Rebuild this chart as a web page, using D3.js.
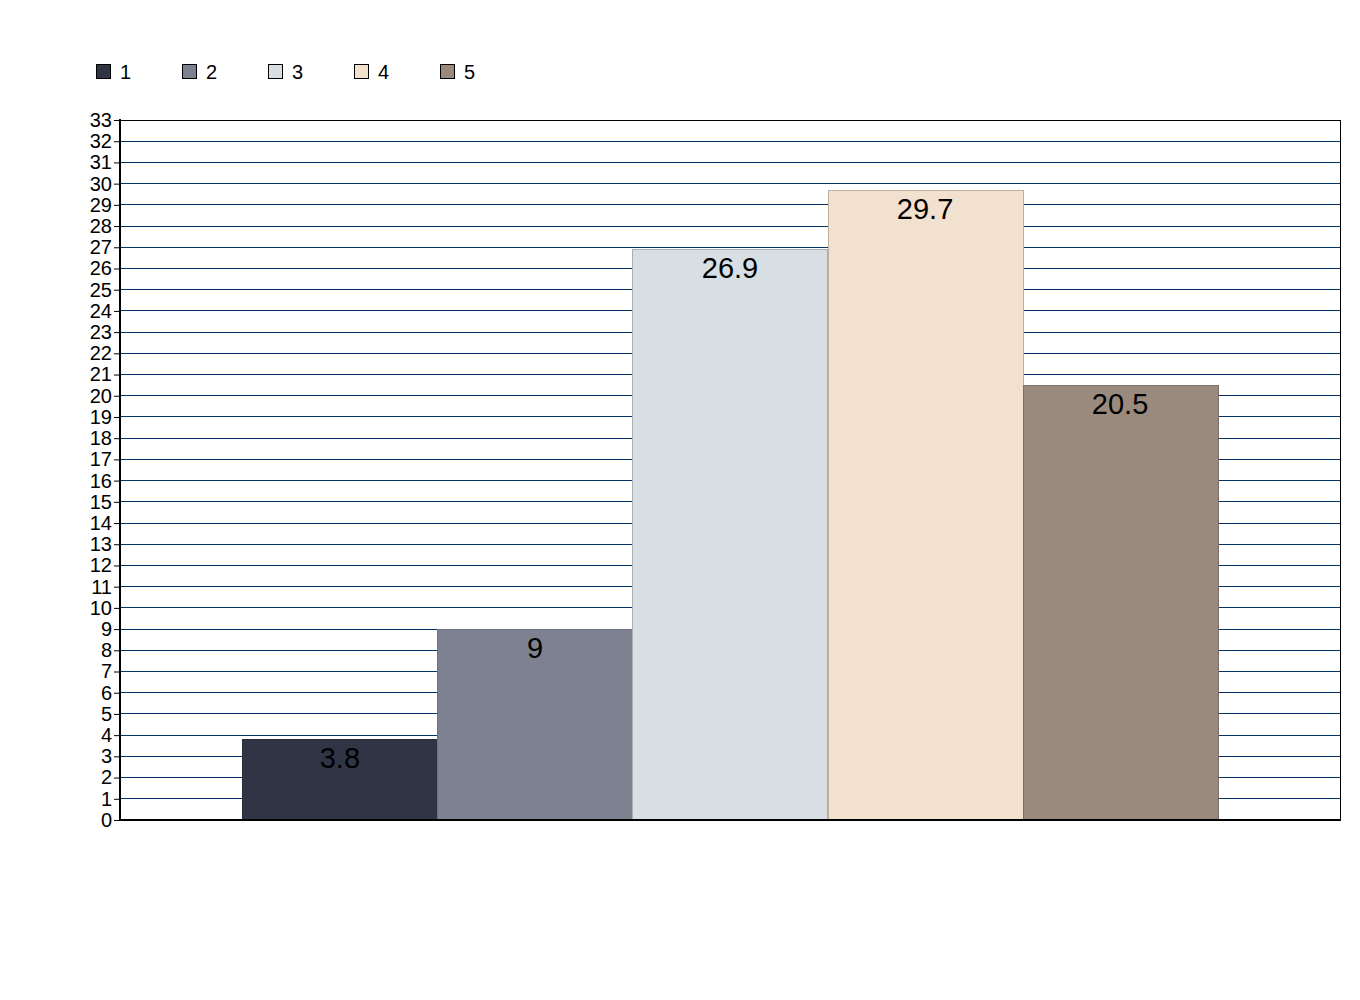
<!DOCTYPE html>
<html><head><meta charset="utf-8">
<script src="https://cdn.jsdelivr.net/npm/d3@7"></script>
<style>body{margin:0;background:#fff}svg text{font-family:"Liberation Sans",Arial,sans-serif}</style>
</head><body><svg id="c" width="1360" height="1000"></svg>
<script>
const series = ["1","2","3","4","5"];
const values = [3.8, 9, 26.9, 29.7, 20.5];
const colors = ["#2f3545","#7e8290","#d7dfe5","#f2e1cf","#9a897d"];
const strokes = ["#262b38","#6f737f","#a8aeb2","#bdb0a3","#7c6e64"];
const yTicks = d3.range(0, 34);

const svg = d3.select("#c");
const L = 120, R = 1340, T = 120, B = 820;
const y = d3.scaleLinear().domain([0, 33]).range([B, T]);
const x0 = d3.scaleBand().domain(["g"]).range([L, R]).paddingInner(0).paddingOuter(0.1255);
const x = d3.scaleBand().domain(series).range([x0("g"), x0("g") + x0.bandwidth()]).padding(0);

// gridlines
svg.append("g").selectAll("line").data(yTicks.filter(d => d > 0 && d < 33)).join("line")
  .attr("x1", L).attr("x2", R).attr("y1", d => y(d)).attr("y2", d => y(d))
  .attr("stroke", "#003366").attr("stroke-width", 1).attr("shape-rendering", "crispEdges");
// top & right border
svg.append("line").attr("x1", L).attr("x2", R).attr("y1", T).attr("y2", T).attr("stroke", "#000").attr("shape-rendering", "crispEdges");
svg.append("line").attr("x1", R).attr("x2", R).attr("y1", T).attr("y2", B).attr("stroke", "#000").attr("shape-rendering", "crispEdges");

// bars
svg.append("g").selectAll("rect").data(values).join("rect")
  .attr("x", (d, i) => Math.round(x(series[i])) + 0.5).attr("width", Math.round(x.bandwidth()))
  .attr("y", d => Math.round(y(d)) + 0.5).attr("height", d => B - Math.round(y(d)))
  .attr("fill", (d, i) => colors[i]).attr("stroke", (d, i) => strokes[i]).attr("stroke-width", 1);

// labels
svg.append("g").selectAll("text").data(values).join("text")
  .attr("x", (d, i) => x(series[i]) + x.bandwidth() / 2).attr("y", d => y(d) + 29)
  .attr("text-anchor", "middle").attr("font-size", 29).attr("fill", "#000")
  .text(d => d);

// y axis
const ax = svg.append("g").attr("transform", `translate(${L},0)`)
  .call(d3.axisLeft(y).tickValues(yTicks).tickFormat(d3.format("d")).tickSize(6).tickPadding(2));
ax.select(".domain").remove();
ax.selectAll(".tick line").attr("stroke", "#000");
ax.selectAll(".tick text").attr("font-size", 20).attr("fill", "#000").attr("font-family", "Liberation Sans, Arial, sans-serif");
svg.append("line").attr("x1", L).attr("x2", L).attr("y1", T - 1).attr("y2", B + 1).attr("stroke", "#000").attr("stroke-width", 2);
svg.append("line").attr("x1", L - 1).attr("x2", R + 1).attr("y1", B).attr("y2", B).attr("stroke", "#000").attr("stroke-width", 2);

// legend
const lg = svg.append("g").selectAll("g").data(series).join("g")
  .attr("transform", (d, i) => `translate(${96 + i * 86},64)`);
lg.append("rect").attr("x", 0.5).attr("y", 0.5).attr("width", 14).attr("height", 14)
  .attr("fill", (d, i) => colors[i]).attr("stroke", "#000");
lg.append("text").attr("x", 24).attr("y", 15).attr("font-size", 20).attr("fill", "#000").text(d => d);
</script></body></html>
